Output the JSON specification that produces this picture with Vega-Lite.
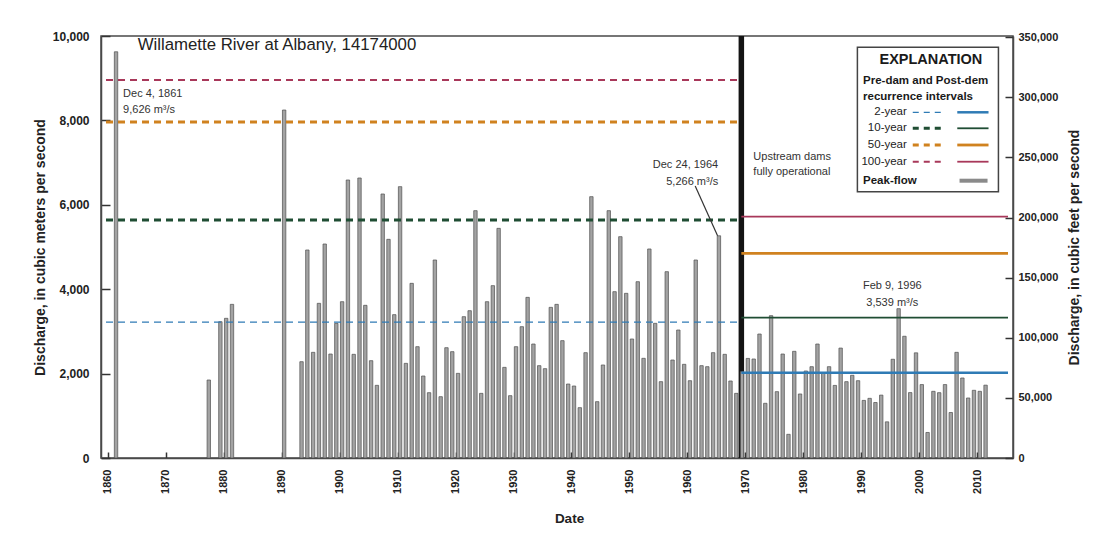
{
  "$schema": "https://vega.github.io/schema/vega-lite/v6.json",
  "width": 912,
  "height": 422,
  "autosize": {"type": "none"},
  "padding": {"left": 101, "top": 36, "right": 91, "bottom": 75},
  "background": "#ffffff",
  "config": {
    "view": {"stroke": "#4a4a4a", "strokeWidth": 1.5},
    "axis": {
      "grid": false,
      "domainColor": "#4a4a4a",
      "domainWidth": 1.5,
      "tickColor": "#333333",
      "tickWidth": 1.5,
      "labelFont": "Liberation Sans",
      "labelFontWeight": "bold",
      "labelColor": "#222222",
      "titleFont": "Liberation Sans",
      "titleFontWeight": "bold",
      "titleColor": "#222222"
    }
  },
  "datasets": {
    "peaks": [
      {"year": 1861, "q": 9626}, {"year": 1877, "q": 1848}, {"year": 1879, "q": 3230}, {"year": 1880, "q": 3310}, {"year": 1881, "q": 3641}, {"year": 1890, "q": 8246},
      {"year": 1893, "q": 2282}, {"year": 1894, "q": 4929}, {"year": 1895, "q": 2504}, {"year": 1896, "q": 3665}, {"year": 1897, "q": 5071}, {"year": 1898, "q": 2464}, {"year": 1899, "q": 3191},
      {"year": 1900, "q": 3704}, {"year": 1901, "q": 6588}, {"year": 1902, "q": 2457}, {"year": 1903, "q": 6635}, {"year": 1904, "q": 3618}, {"year": 1905, "q": 2306}, {"year": 1906, "q": 1722},
      {"year": 1907, "q": 6256}, {"year": 1908, "q": 5182}, {"year": 1909, "q": 3397}, {"year": 1910, "q": 6430}, {"year": 1911, "q": 2243}, {"year": 1912, "q": 4139}, {"year": 1913, "q": 2638},
      {"year": 1914, "q": 1943}, {"year": 1915, "q": 1548}, {"year": 1916, "q": 4692}, {"year": 1917, "q": 1453}, {"year": 1918, "q": 2614}, {"year": 1919, "q": 2520}, {"year": 1920, "q": 2006},
      {"year": 1921, "q": 3349}, {"year": 1922, "q": 3491}, {"year": 1923, "q": 5861}, {"year": 1924, "q": 1532}, {"year": 1925, "q": 3704}, {"year": 1926, "q": 4084}, {"year": 1927, "q": 5442},
      {"year": 1928, "q": 2148}, {"year": 1929, "q": 1477}, {"year": 1930, "q": 2638}, {"year": 1931, "q": 3112}, {"year": 1932, "q": 3807}, {"year": 1933, "q": 2701}, {"year": 1934, "q": 2188},
      {"year": 1935, "q": 2117}, {"year": 1936, "q": 3570}, {"year": 1937, "q": 3641}, {"year": 1938, "q": 2781}, {"year": 1939, "q": 1753}, {"year": 1940, "q": 1706}, {"year": 1941, "q": 1193},
      {"year": 1942, "q": 2496}, {"year": 1943, "q": 6193}, {"year": 1944, "q": 1335}, {"year": 1945, "q": 2204}, {"year": 1946, "q": 5861}, {"year": 1947, "q": 3942}, {"year": 1948, "q": 5245},
      {"year": 1949, "q": 3902}, {"year": 1950, "q": 2820}, {"year": 1951, "q": 4178}, {"year": 1952, "q": 2362}, {"year": 1953, "q": 4953}, {"year": 1954, "q": 3191}, {"year": 1955, "q": 1809},
      {"year": 1956, "q": 4415}, {"year": 1957, "q": 2322}, {"year": 1958, "q": 3033}, {"year": 1959, "q": 2220}, {"year": 1960, "q": 1832}, {"year": 1961, "q": 4692}, {"year": 1962, "q": 2188},
      {"year": 1963, "q": 2164}, {"year": 1964, "q": 2496}, {"year": 1965, "q": 5266}, {"year": 1966, "q": 2457}, {"year": 1967, "q": 1825}, {"year": 1968, "q": 1532}, {"year": 1969, "q": 2046},
      {"year": 1970, "q": 2360}, {"year": 1971, "q": 2346}, {"year": 1972, "q": 2938}, {"year": 1973, "q": 1296}, {"year": 1974, "q": 3373}, {"year": 1975, "q": 1572}, {"year": 1976, "q": 2464},
      {"year": 1977, "q": 561}, {"year": 1978, "q": 2528}, {"year": 1979, "q": 1517}, {"year": 1980, "q": 2062}, {"year": 1981, "q": 2164}, {"year": 1982, "q": 2701}, {"year": 1983, "q": 2025},
      {"year": 1984, "q": 2164}, {"year": 1985, "q": 1720}, {"year": 1986, "q": 2605}, {"year": 1987, "q": 1809}, {"year": 1988, "q": 1960}, {"year": 1989, "q": 1832}, {"year": 1990, "q": 1365},
      {"year": 1991, "q": 1414}, {"year": 1992, "q": 1315}, {"year": 1993, "q": 1490}, {"year": 1994, "q": 857}, {"year": 1995, "q": 2340}, {"year": 1996, "q": 3539}, {"year": 1997, "q": 2885},
      {"year": 1998, "q": 1550}, {"year": 1999, "q": 2492}, {"year": 2000, "q": 1740}, {"year": 2001, "q": 605}, {"year": 2002, "q": 1580}, {"year": 2003, "q": 1548}, {"year": 2004, "q": 1740},
      {"year": 2005, "q": 1078}, {"year": 2006, "q": 2504}, {"year": 2007, "q": 1896}, {"year": 2008, "q": 1422}, {"year": 2009, "q": 1604}, {"year": 2010, "q": 1580}, {"year": 2011, "q": 1726}
    ],
    "intervals": [
      {"interval": "2-year", "period": "Pre-dam", "q": 3220},
      {"interval": "10-year", "period": "Pre-dam", "q": 5640},
      {"interval": "50-year", "period": "Pre-dam", "q": 7960},
      {"interval": "100-year", "period": "Pre-dam", "q": 8960},
      {"interval": "2-year", "period": "Post-dam", "q": 2020},
      {"interval": "10-year", "period": "Post-dam", "q": 3325},
      {"interval": "50-year", "period": "Post-dam", "q": 4850},
      {"interval": "100-year", "period": "Post-dam", "q": 5720}
    ],
    "legendRows": [
      {"interval": "2-year", "ly": 8192},
      {"interval": "10-year", "ly": 7813},
      {"interval": "50-year", "ly": 7417},
      {"interval": "100-year", "ly": 7021}
    ],
    "notes": [
      {"role": "title", "text": "Willamette River at Albany, 14174000", "x": 1865.16, "y": 9775},
      {"role": "flood1861", "text": "Dec 4, 1861", "x": 1862.65, "y": 8618},
      {"role": "flood1861", "text": "9,626 m³/s", "x": 1862.65, "y": 8239},
      {"role": "dams", "text": "Upstream dams", "x": 1971.37, "y": 7140},
      {"role": "dams", "text": "fully operational", "x": 1971.37, "y": 6770},
      {"role": "flood1964", "text": "Dec 24, 1964", "x": 1965.31, "y": 6943},
      {"role": "flood1964", "text": "5,266 m³/s", "x": 1965.31, "y": 6547},
      {"role": "flood1996", "text": "Feb 9, 1996", "x": 1995.34, "y": 4076},
      {"role": "flood1996", "text": "3,539 m³/s", "x": 1995.34, "y": 3666},
      {"role": "legendTitle", "text": "EXPLANATION", "x": 2002.0, "y": 9431},
      {"role": "legendHeading", "text": "Pre-dam and Post-dem", "x": 1990.29, "y": 8934},
      {"role": "legendHeading", "text": "recurrence intervals", "x": 1990.29, "y": 8562},
      {"role": "legendHeading", "text": "Peak-flow", "x": 1990.29, "y": 6571}
    ]
  },
  "layer": [
    {
      "layer": [
        {
          "data": {"values": [{"event": "Upstream dams fully operational", "year": 1969.3}]},
          "mark": {"type": "rule", "color": "#141414", "strokeWidth": 5.5},
          "encoding": {
            "x": {"field": "year", "type": "quantitative", "scale": {"domain": [1859.7, 2015.3], "nice": false, "zero": false},
              "axis": {"values": [1860, 1870, 1880, 1890, 1900, 1910, 1920, 1930, 1940, 1950, 1960, 1970, 1980, 1990, 2000, 2010], "labelExpr": "format(datum.value, 'd')", "labelAngle": -90, "tickSize": -6, "labelPadding": 17, "labelFontSize": 11, "title": "Date", "titleFontSize": 13.5, "titlePadding": 18, "titleX": 468}}
          }
        },
        {
          "data": {"name": "peaks"},
          "mark": {"type": "bar", "width": 3.4, "fill": "#a3a3a3", "stroke": "#4f4f4f", "strokeWidth": 0.7, "xOffset": 2.5},
          "encoding": {
            "x": {"field": "year", "type": "quantitative", "scale": {"domain": [1859.7, 2015.3], "nice": false, "zero": false}},
            "y": {"field": "q", "type": "quantitative", "scale": {"domain": [0, 10000], "nice": false},
              "axis": {"values": [0, 2000, 4000, 6000, 8000, 10000], "labelExpr": "format(datum.value, ',')", "tickSize": -9, "labelPadding": 21, "labelFontSize": 12, "title": "Discharge, in cubic meters per second", "titleFontSize": 14, "titlePadding": 5}}
          }
        },
        {
          "data": {"name": "intervals"},
          "transform": [{"filter": "datum.period === 'Pre-dam'"}],
          "mark": {"type": "rule", "strokeDash": [7, 5]},
          "encoding": {
            "x": {"datum": 1859.7, "type": "quantitative", "scale": {"domain": [1859.7, 2015.3], "nice": false, "zero": false}},
            "x2": {"datum": 1969.3},
            "y": {"field": "q", "type": "quantitative", "scale": {"domain": [0, 10000], "nice": false}},
            "color": {"field": "interval", "type": "nominal", "scale": {"domain": ["2-year", "10-year", "50-year", "100-year"], "range": ["#2f7bb5", "#1f4d33", "#d0821f", "#a8385a"]}, "legend": null},
            "strokeWidth": {"condition": [{"test": "datum.interval === '2-year'", "value": 1.2}, {"test": "datum.interval === '100-year'", "value": 2}], "value": 3}
          }
        },
        {
          "data": {"name": "intervals"},
          "transform": [{"filter": "datum.period === 'Post-dam'"}],
          "mark": {"type": "rule"},
          "encoding": {
            "x": {"datum": 1969.3, "type": "quantitative", "scale": {"domain": [1859.7, 2015.3], "nice": false, "zero": false}},
            "x2": {"datum": 2015.3},
            "y": {"field": "q", "type": "quantitative", "scale": {"domain": [0, 10000], "nice": false}},
            "color": {"field": "interval", "type": "nominal", "legend": null},
            "strokeWidth": {"condition": [{"test": "datum.interval === '2-year'", "value": 2.5}, {"test": "datum.interval === '50-year'", "value": 2.8}], "value": 1.8}
          }
        },
        {
          "data": {"values": [{"from": "Dec 24, 1964 label", "x": 1961.34, "y": 6445, "x2": 1965.2, "y2": 5266}]},
          "mark": {"type": "rule", "color": "#333333", "strokeWidth": 1.2},
          "encoding": {
            "x": {"field": "x", "type": "quantitative", "scale": {"domain": [1859.7, 2015.3], "nice": false, "zero": false}},
            "x2": {"field": "x2"},
            "y": {"field": "y", "type": "quantitative", "scale": {"domain": [0, 10000], "nice": false}},
            "y2": {"field": "y2"}
          }
        },
        {
          "data": {"name": "notes"},
          "transform": [{"filter": "datum.role === 'title'"}],
          "mark": {"type": "text", "align": "left", "baseline": "middle", "font": "Liberation Sans", "fontSize": 16.8, "color": "#222222"},
          "encoding": {
            "x": {"field": "x", "type": "quantitative", "scale": {"domain": [1859.7, 2015.3], "nice": false, "zero": false}},
            "y": {"field": "y", "type": "quantitative", "scale": {"domain": [0, 10000], "nice": false}},
            "text": {"field": "text"}
          }
        },
        {
          "data": {"name": "notes"},
          "transform": [{"filter": {"field": "role", "oneOf": ["flood1861", "dams"]}}],
          "mark": {"type": "text", "align": "left", "baseline": "middle", "font": "Liberation Sans", "fontSize": 11, "color": "#333333"},
          "encoding": {
            "x": {"field": "x", "type": "quantitative", "scale": {"domain": [1859.7, 2015.3], "nice": false, "zero": false}},
            "y": {"field": "y", "type": "quantitative", "scale": {"domain": [0, 10000], "nice": false}},
            "text": {"field": "text"}
          }
        },
        {
          "data": {"name": "notes"},
          "transform": [{"filter": "datum.role === 'flood1964'"}],
          "mark": {"type": "text", "align": "right", "baseline": "middle", "font": "Liberation Sans", "fontSize": 11, "color": "#333333"},
          "encoding": {
            "x": {"field": "x", "type": "quantitative", "scale": {"domain": [1859.7, 2015.3], "nice": false, "zero": false}},
            "y": {"field": "y", "type": "quantitative", "scale": {"domain": [0, 10000], "nice": false}},
            "text": {"field": "text"}
          }
        },
        {
          "data": {"name": "notes"},
          "transform": [{"filter": "datum.role === 'flood1996'"}],
          "mark": {"type": "text", "align": "center", "baseline": "middle", "font": "Liberation Sans", "fontSize": 11, "color": "#333333"},
          "encoding": {
            "x": {"field": "x", "type": "quantitative", "scale": {"domain": [1859.7, 2015.3], "nice": false, "zero": false}},
            "y": {"field": "y", "type": "quantitative", "scale": {"domain": [0, 10000], "nice": false}},
            "text": {"field": "text"}
          }
        },
        {
          "data": {"values": [{"box": "EXPLANATION"}]},
          "mark": {"type": "rect", "fill": "#ffffff", "stroke": "#444444", "strokeWidth": 1.5},
          "encoding": {
            "x": {"datum": 1989.32, "type": "quantitative", "scale": {"domain": [1859.7, 2015.3], "nice": false, "zero": false}},
            "x2": {"datum": 2013.65},
            "y": {"datum": 9732, "type": "quantitative", "scale": {"domain": [0, 10000], "nice": false}},
            "y2": {"datum": 6310}
          }
        },
        {
          "data": {"name": "notes"},
          "transform": [{"filter": "datum.role === 'legendTitle'"}],
          "mark": {"type": "text", "align": "center", "baseline": "middle", "font": "Liberation Sans", "fontWeight": "bold", "fontSize": 14.5, "color": "#1a1a1a"},
          "encoding": {
            "x": {"field": "x", "type": "quantitative", "scale": {"domain": [1859.7, 2015.3], "nice": false, "zero": false}},
            "y": {"field": "y", "type": "quantitative", "scale": {"domain": [0, 10000], "nice": false}},
            "text": {"field": "text"}
          }
        },
        {
          "data": {"name": "notes"},
          "transform": [{"filter": "datum.role === 'legendHeading'"}],
          "mark": {"type": "text", "align": "left", "baseline": "middle", "font": "Liberation Sans", "fontWeight": "bold", "fontSize": 11.5, "color": "#1a1a1a"},
          "encoding": {
            "x": {"field": "x", "type": "quantitative", "scale": {"domain": [1859.7, 2015.3], "nice": false, "zero": false}},
            "y": {"field": "y", "type": "quantitative", "scale": {"domain": [0, 10000], "nice": false}},
            "text": {"field": "text"}
          }
        },
        {
          "data": {"name": "legendRows"},
          "mark": {"type": "text", "align": "right", "baseline": "middle", "font": "Liberation Sans", "fontSize": 11.5, "color": "#222222"},
          "encoding": {
            "x": {"datum": 1997.85, "type": "quantitative", "scale": {"domain": [1859.7, 2015.3], "nice": false, "zero": false}},
            "y": {"field": "ly", "type": "quantitative", "scale": {"domain": [0, 10000], "nice": false}},
            "text": {"field": "interval"}
          }
        },
        {
          "data": {"name": "legendRows"},
          "mark": {"type": "rule", "strokeDash": [6, 5]},
          "encoding": {
            "x": {"datum": 1998.87, "type": "quantitative", "scale": {"domain": [1859.7, 2015.3], "nice": false, "zero": false}},
            "x2": {"datum": 2004.26},
            "y": {"field": "ly", "type": "quantitative", "scale": {"domain": [0, 10000], "nice": false}},
            "color": {"field": "interval", "type": "nominal", "legend": null},
            "strokeWidth": {"condition": [{"test": "datum.interval === '2-year'", "value": 1.2}, {"test": "datum.interval === '100-year'", "value": 2}], "value": 3}
          }
        },
        {
          "data": {"name": "legendRows"},
          "mark": {"type": "rule"},
          "encoding": {
            "x": {"datum": 2006.55, "type": "quantitative", "scale": {"domain": [1859.7, 2015.3], "nice": false, "zero": false}},
            "x2": {"datum": 2011.94},
            "y": {"field": "ly", "type": "quantitative", "scale": {"domain": [0, 10000], "nice": false}},
            "color": {"field": "interval", "type": "nominal", "legend": null},
            "strokeWidth": {"condition": [{"test": "datum.interval === '2-year'", "value": 2.5}, {"test": "datum.interval === '50-year'", "value": 2.8}], "value": 1.8}
          }
        },
        {
          "data": {"values": [{"series": "Peak-flow"}]},
          "mark": {"type": "rule", "color": "#8a8a8a", "strokeWidth": 4},
          "encoding": {
            "x": {"datum": 2006.94, "type": "quantitative", "scale": {"domain": [1859.7, 2015.3], "nice": false, "zero": false}},
            "x2": {"datum": 2011.77},
            "y": {"datum": 6571, "type": "quantitative", "scale": {"domain": [0, 10000], "nice": false}}
          }
        }
      ]
    },
    {
      "data": {"values": [{"unit": "cubic feet per second"}]},
      "mark": {"type": "rule", "opacity": 0},
      "encoding": {
        "y": {"datum": 0, "type": "quantitative", "scale": {"domain": [0, 351000], "nice": false},
          "axis": {"orient": "right", "values": [0, 50000, 100000, 150000, 200000, 250000, 300000, 350000], "labelExpr": "format(datum.value, ',')", "tickSize": -8, "labelPadding": 13, "labelFontSize": 11, "title": "Discharge, in cubic feet per second", "titleFontSize": 14, "titleAngle": 270, "titleBaseline": "top", "titlePadding": 10}}
      }
    }
  ],
  "resolve": {"scale": {"y": "independent"}}
}
